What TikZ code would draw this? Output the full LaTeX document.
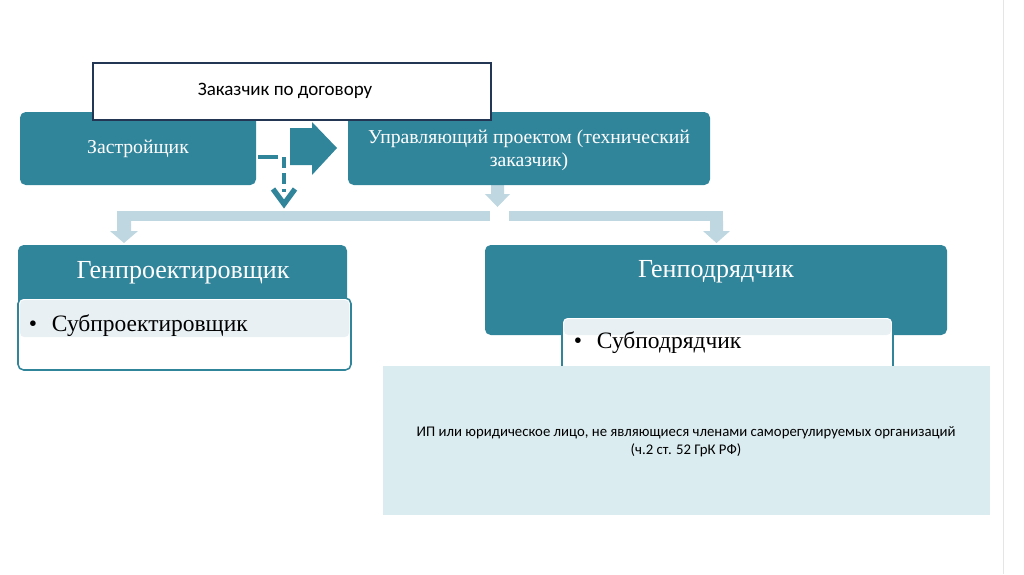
\documentclass[tikz,border=0pt]{standalone}
\usepackage{fontspec}
\setmainfont{Liberation Serif}
\newfontfamily\calib{Carlito}
\definecolor{tealmain}{RGB}{49,133,155}
\definecolor{lightbar}{RGB}{190,215,225}
\definecolor{paleback}{RGB}{219,236,241}
\definecolor{palefill}{RGB}{232,240,243}
\definecolor{navyline}{RGB}{35,55,85}

\begin{document}
\begin{tikzpicture}[x=0.025cm,y=-0.025cm,
	tealbox/.style={fill=tealmain, rounded corners=4pt},
	subbox/.style={draw=tealmain, line width=1.1pt, fill=white, rounded corners=4pt},
	toptext/.style={text=white, align=center, font=\fontsize{14}{16.3}\selectfont},
	headtext/.style={text=white, font=\fontsize{18.5}{22}\selectfont},
	itemtext/.style={anchor=west, font=\fontsize{16.7}{20}\selectfont}]
	\useasboundingbox (0,0) rectangle (1024,574);
	\draw[black!10] (1003,0) -- (1003,574);

	% light bars from the upper row
	\fill[lightbar] (117,211) rectangle (490,221);
	\fill[lightbar] (509,211) rectangle (723,221);
	\fill[lightbar] (117,221) rectangle (131,231) (110,231) -- (138,231) -- (124,243) -- cycle;
	\fill[lightbar] (710,221) rectangle (723,231) (703,231) -- (730,231) -- (716.5,243) -- cycle;
	\fill[lightbar] (491,185) rectangle (504,194) (485,194) -- (510,194) -- (497.5,207) -- cycle;

	% upper row
	\fill[tealbox] (20,112) rectangle (256,185);
	\fill[tealbox] (348,112) rectangle (710,185);
	\node[toptext] (zastr) at (138,149) {Застройщик};
	\node[toptext] (upr) at (529,150) {Управляющий проектом (технический\\заказчик)};

	% big arrow and dashed arrow
	\fill[tealmain] (290,128) -- (312,128) -- (312,122) -- (337,148) -- (312,175) -- (312,165) -- (290,165) -- cycle;
	\coordinate (dashA) at (258,157);
	\coordinate (dashB) at (278,157);
	\coordinate (dashC) at (284,157);
	\coordinate (dashD) at (284,204);
	\draw[tealmain, line width=3pt] (dashA) -- (dashB);
	\draw[tealmain, line width=3pt, dash pattern=on 8pt off 3.5pt] (dashC) -- ([yshift=0.3cm]dashD);
	\draw[tealmain, line width=3.8pt, line join=miter] (273,189) -- (dashD) -- (295,189);

	% customer by contract
	\node[draw=navyline, line width=1.2pt, fill=white, minimum width=398*0.025cm, minimum height=57*0.025cm] (zakaz) at (292,91.5) {};
	\node[font=\calib\fontsize{13.5}{16}\selectfont] (zakaztext) at (285,91) {Заказчик по договору};

	% left column
	\fill[tealbox] (18,245) rectangle (347,318);
	\node[headtext] (genproekt) at (183,273) {Генпроектировщик};
	\filldraw[subbox] (18,298) rectangle (351,370);
	\fill[palefill, rounded corners=3pt] (20,300) rectangle (349,337);
	\node[itemtext] (subproekt) at (24,326) {\textbullet\hspace{10.5pt}Субпроектировщик};

	% right column
	\fill[tealbox] (485,245) rectangle (947,335);
	\node[headtext] (genpodr) at (716,272) {Генподрядчик};
	\filldraw[subbox] (562,317) rectangle (893,400);
	\fill[palefill, rounded corners=3pt] (564,319) rectangle (891,335);
	\node[itemtext] (subpodr) at (569,343) {\textbullet\hspace{10.5pt}Субподрядчик};

	% note
	\fill[paleback] (383,366) rectangle (990,515);
	\node[align=center, font=\calib\fontsize{10.5}{12.8}\selectfont] (note) at (686,442)
		{ИП или юридическое лицо, не являющиеся членами саморегулируемых организаций\\(ч.2 ст. 52 ГрК РФ)};
\end{tikzpicture}
\end{document}
